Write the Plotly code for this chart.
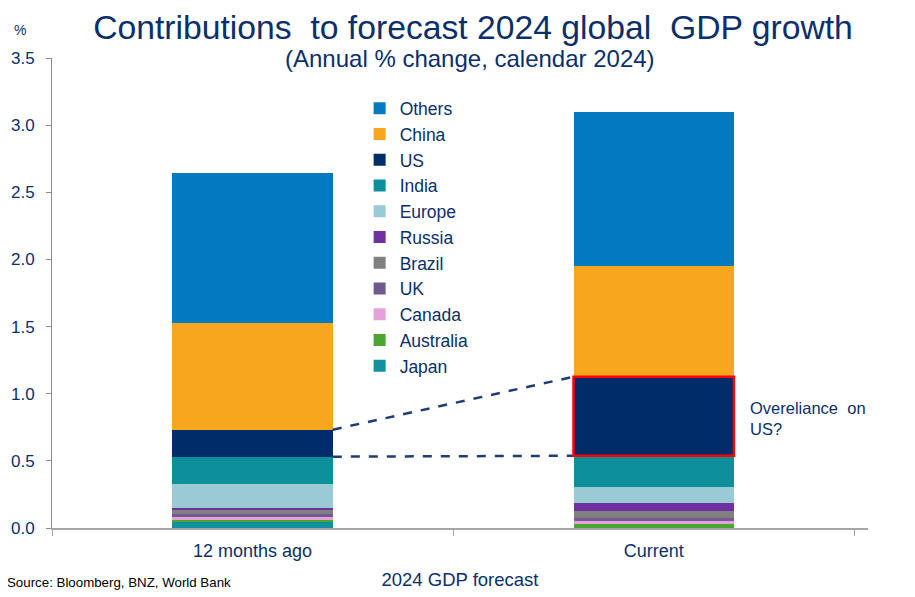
import plotly.graph_objects as go

categories = ["12 months ago", "Current"]

# Stacked bottom-to-top
series_names = ["Japan", "Australia", "Canada", "UK", "Brazil", "Russia",
                "Europe", "India", "US", "China", "Others"]
japan = [0.048, 0.003]
australia = [0.015, 0.025]
canada = [0.022, 0.025]
uk = [0.022, 0.025]
brazil = [0.030, 0.045]
russia = [0.015, 0.060]
europe = [0.176, 0.122]
india = [0.203, 0.233]
us = [0.201, 0.588]
china = [0.797, 0.826]
others = [1.117, 1.147]

series_values = [japan, australia, canada, uk, brazil, russia,
                 europe, india, us, china, others]
colors = ["#12909E", "#4AA532", "#E6A0DA", "#705A91", "#808080", "#7030A0",
          "#9ACAD3", "#0E8F9C", "#002D6A", "#F8A61D", "#0279C1"]

NAVY = "#0B2F6B"
FONT = "Liberation Sans, Arial, sans-serif"

fig = go.Figure()
for name, vals, col in zip(series_names, series_values, colors):
    fig.add_trace(go.Bar(name=name, x=categories, y=vals,
                         marker=dict(color=col, line=dict(width=0))))

# cumulative positions of US segment
idx_us = series_names.index("US")
below_us = [sum(s[i] for s in series_values[:idx_us]) for i in range(2)]
top_us = [below_us[i] + us[i] for i in range(2)]

half = 0.2
shapes = [
    dict(type="line", xref="x", yref="y", x0=0 + half, x1=1 - half,
         y0=top_us[0], y1=top_us[1], line=dict(color="#1F3C73", width=2.5, dash="dash")),
    dict(type="line", xref="x", yref="y", x0=0 + half, x1=1 - half,
         y0=below_us[0], y1=below_us[1], line=dict(color="#1F3C73", width=2.5, dash="dash")),
    dict(type="rect", xref="x", yref="y", x0=1 - half, x1=1 + half,
         y0=below_us[1], y1=top_us[1], line=dict(color="#FF0000", width=2.5)),
]

annotations = [
    dict(text="(Annual % change, calendar 2024)", xref="paper", yref="paper",
         x=0.512, y=1.0, xanchor="center", yanchor="middle", showarrow=False,
         font=dict(size=24, color=NAVY, family=FONT)),
    dict(text="%", xref="paper", yref="paper", x=-0.039, y=1.06,
         xanchor="center", yanchor="middle", showarrow=False,
         font=dict(size=14, color=NAVY, family=FONT)),
    dict(text="Source: Bloomberg, BNZ, World Bank", xref="paper", yref="paper",
         x=-0.057, y=-0.115, xanchor="left", yanchor="middle", showarrow=False,
         font=dict(size=13.3, color="#000000", family=FONT)),
    dict(text="Overeliance  on<br>US?", xref="x", yref="y", x=1.235,
         y=(below_us[1] + top_us[1]) / 2 - 0.02, xanchor="left", yanchor="middle",
         align="left", showarrow=False,
         font=dict(size=16.5, color=NAVY, family=FONT)),
]

W, H = 915, 597
fig.update_layout(
    width=W, height=H,
    margin=dict(l=44, r=55, t=50, b=77),
    paper_bgcolor="white", plot_bgcolor="white",
    barmode="stack", bargap=0.6,
    title=dict(text="Contributions  to forecast 2024 global  GDP growth",
               x=465 / W, xanchor="center", y=1 - 19 / H, yanchor="middle",
               font=dict(size=33.7, color=NAVY, family=FONT)),
    font=dict(family=FONT, color=NAVY),
    legend=dict(x=0.377, y=0.931, xanchor="left", yanchor="top",
                traceorder="reversed", bgcolor="rgba(0,0,0,0)",
                font=dict(size=17.5, color=NAVY, family=FONT),
                itemclick=False),
    xaxis=dict(showline=True, linecolor="#A6A6A6", linewidth=2, automargin=False,
               ticks="outside", tickson="boundaries", ticklen=6, tickcolor="#A6A6A6",
               showgrid=False, tickfont=dict(size=18, color=NAVY),
               ticklabelstandoff=5,
               title=dict(text="2024 GDP forecast", font=dict(size=18.5, color=NAVY),
                          standoff=13)),
    yaxis=dict(range=[0, 3.5], dtick=0.5, tickformat=".1f", automargin=False,
               showline=True, linecolor="#8C8C8C", linewidth=1,
               ticks="outside", ticklen=5, tickcolor="#8C8C8C",
               showgrid=False, zeroline=False, ticklabelstandoff=8,
               tickfont=dict(size=17, color=NAVY)),
    shapes=shapes,
    annotations=annotations,
)

fig.write_html("out.html")
